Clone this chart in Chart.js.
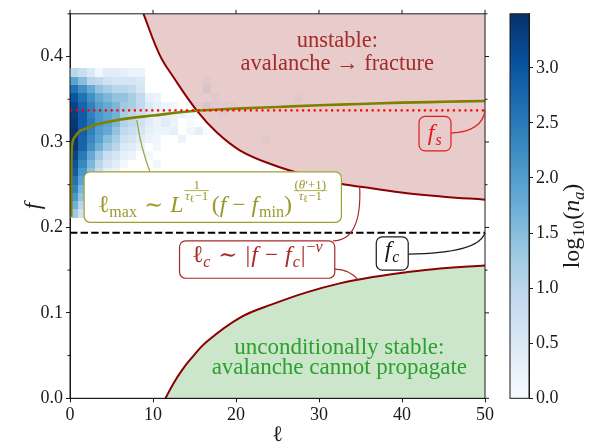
<!DOCTYPE html>
<html>
<head>
<meta charset="utf-8">
<script src="https://cdn.jsdelivr.net/npm/chart.js@4.4.1/dist/chart.umd.min.js"></script>
<style>
  html, body { margin: 0; padding: 0; background: #fff; }
  #wrap { position: relative; width: 595px; height: 446px; }
  #wrap canvas { position: absolute; left: 0; top: 0; }
  #phase { background: #fff; }
</style>
</head>
<body>
<div id="wrap">
  <canvas id="phase" width="595" height="446"></canvas>
  <canvas id="cbar" width="595" height="446"></canvas>
</div>
<script>
// ---- tick values ----
const xTicks = [0, 10, 20, 30, 40, 50];
const yTicks = [0, 0.1, 0.2, 0.3, 0.4];
const yMinorTicks = [0.05, 0.15, 0.25, 0.35, 0.45];
const cbMax = 3.49;

// ---- reference levels ----
const fC = 0.1937;
const fS = 0.337;

// boundary of the unstable (fracture) region
const unstableEll = [8.85, 10.8, 12.45, 15.26, 17.7, 20.5, 24.5, 28.5, 32.5, 36.5, 40.6, 45, 50];
const unstableF = [0.450, 0.402, 0.376, 0.337, 0.311, 0.290, 0.273, 0.261, 0.2515, 0.2455, 0.240, 0.236, 0.2325];

// boundary of the unconditionally stable region
const stableEll = [11.5, 12.5, 13.5, 14.5, 16.5, 20.5, 24.5, 28.5, 32.5, 36.5, 40.6, 44.6, 50];
const stableF = [0, 0.018, 0.033, 0.0455, 0.0665, 0.0945, 0.1105, 0.124, 0.1345, 0.142, 0.1477, 0.152, 0.1555];

// ell_max scaling curve
const lmaxEll = [0.15, 0.16, 0.19, 0.3, 0.6, 1.1, 2.0, 2.7, 4.3, 6.3, 10, 15.3, 20, 25, 30, 35, 40, 45, 50];
const lmaxF = [0.2125, 0.26, 0.285, 0.299, 0.306, 0.312, 0.316, 0.319, 0.323, 0.3267, 0.331, 0.3365, 0.339, 0.341, 0.343, 0.3445, 0.346, 0.347, 0.348];

// ---- avalanche histogram, log10(n_a) ----
// ell bins are one unit wide starting at 0; f bin edges from top to bottom
const hmFEdges = [0.386, 0.3763, 0.3666, 0.3569, 0.3472, 0.3375, 0.3278, 0.3181, 0.3084, 0.2987,
  0.289, 0.2793, 0.2696, 0.2599, 0.2502, 0.2405, 0.2308, 0.2211, 0.2114];
const _ = null;
const hmRows = [
  [1.0, 0.8, 0.5, 0.1, 0.4, 0.4, 0.3, 0.2, 0.2],
  [1.9, 1.5, 1.0, 0.9, 0.7, 0.6, 0.6, 0.6, 0.5, _, _, _, _, _, _, _, 0.0],
  [2.6, 2.2, 1.8, 1.4, 1.2, 1.0, 1.0, 0.9, 0.6, _, _, _, _, _, _, _, 0.2],
  [3.0, 2.6, 2.2, 1.8, 1.6, 1.4, 1.4, 1.2, 0.9, 0.3, 0.2, _, _, _, _, _, _, 0.0, _, _, _, _, _, _, _, _, _, 0.0],
  [3.2, 2.8, 2.4, 2.0, 1.8, 1.6, 1.3, 1.2, 0.9, 0.5, 0.3, 0.2, 0.1, _, _, 0.0, 0.2, 0.0, 0.0, 0.0],
  [3.3, 2.9, 2.4, 2.1, 1.9, 1.7, 1.2, 1.0, 0.8, 0.5, 0.3, 0.3, 0.2, 0.2, 0.1, _, _, _, 0.0],
  [3.4, 2.9, 2.5, 2.1, 1.9, 1.6, 1.1, 0.9, 0.7, 0.4, 0.2, 0.4, 0.2, _, 0.0],
  [3.45, 2.9, 2.4, 2.0, 1.8, 1.4, 0.9, 0.8, 0.6, 0.3, 0.2, 0.2, 0.3, _, 0.1, 0.3, 0.0],
  [3.45, 2.8, 2.3, 1.9, 1.5, 1.2, 0.7, 0.6, 0.4, 0.2, 0.1, _, _, 0.2, _, _, _, _, _, _, _, _, _, 0.0],
  [3.4, 2.8, 2.2, 1.7, 1.3, 1.0, 0.5, 0.4, 0.2, _, 0.1],
  [3.2, 2.5, 1.8, 1.3, 0.8, 0.6, 0.3, 0.2, _, 0.1],
  [3.0, 2.3, 1.6, 1.0, 0.6, 0.4, 0.1, _, _, _, 0.1],
  [2.9, 2.1, 1.4, 0.8, 0.3, 0.2],
  [2.6, 1.9, 1.1, 0.5, 0.2],
  [2.4, 1.6, 0.8, 0.2],
  [2.1, 1.4, 0.5],
  [1.7, 1.0, 0.3],
  [1.3, 0.7]
];

// ---- styling ----
const ink = '#1a1a1a';
const serif = "'Liberation Serif', 'DejaVu Serif', serif";
const darkRed = '#8b0000';
const olive = '#808000';
const oliveText = '#9a9a2a';
const brick = '#a52a2a';
const bluesStops = ['#f7fbff', '#deebf7', '#c6dbef', '#9ecae1', '#6baed6', '#4292c6', '#2171b5', '#08519c', '#08306b'];

Chart.defaults.font.family = serif;
Chart.defaults.font.size = 18;
Chart.defaults.color = ink;

function hexRgb(h) { return [1, 3, 5].map(i => parseInt(h.slice(i, i + 2), 16)); }
function blues(v) {
  const t = Math.min(1, Math.max(0, v / cbMax)) * (bluesStops.length - 1);
  const i = Math.min(Math.floor(t), bluesStops.length - 2);
  const a = hexRgb(bluesStops[i]), b = hexRgb(bluesStops[i + 1]), k = t - i;
  return 'rgb(' + a.map((c, j) => Math.round(c + (b[j] - c) * k)).join(',') + ')';
}

// ---- little math-text helper ----
const S = (t, s, o) => Object.assign({ t, s }, o || {});
const G = w => ({ gap: w });
function fontOf(r) { return (r.it ? 'italic ' : '') + r.s + 'px ' + serif; }
function runWidth(ctx, r) {
  if (r.gap !== undefined) return r.gap;
  if (r.frac) return Math.max(seqWidth(ctx, r.frac[0]), seqWidth(ctx, r.frac[1])) + 3;
  ctx.font = fontOf(r);
  return ctx.measureText(r.t).width;
}
function seqWidth(ctx, runs) { let w = 0; runs.forEach(r => { w += runWidth(ctx, r); }); return w; }
function drawSeq(ctx, runs, x, y) {
  runs.forEach(r => {
    const w = runWidth(ctx, r);
    if (r.frac) {
      const by = y + r.dy;
      drawSeq(ctx, r.frac[0], x + (w - seqWidth(ctx, r.frac[0])) / 2, by - 2);
      drawSeq(ctx, r.frac[1], x + (w - seqWidth(ctx, r.frac[1])) / 2, by + 9);
      ctx.save();
      ctx.strokeStyle = ctx.fillStyle;
      ctx.lineWidth = 0.8;
      ctx.beginPath(); ctx.moveTo(x + 1, by); ctx.lineTo(x + w - 1, by); ctx.stroke();
      ctx.restore();
    } else if (r.t) {
      ctx.font = fontOf(r);
      ctx.fillText(r.t, x, y + (r.dy || 0));
    }
    x += w;
  });
}
function drawCentered(ctx, runs, cx, y) { drawSeq(ctx, runs, cx - seqWidth(ctx, runs) / 2, y); }

const tauDen = [S('τ', 13, { it: 1 }), S('ℓ', 10, { dy: 2 }), S('−1', 13)];
const lmaxRuns = [
  S('ℓ', 24), S('max', 16, { dy: 5 }), G(7), S('∼', 23), G(7), S('L', 24, { it: 1 }),
  { frac: [[S('1', 13)], tauDen], dy: -21 },
  G(2), S('(', 24), S('f', 24, { it: 1 }), G(6), S('−', 23), G(6), S('f', 24, { it: 1 }), G(1), S('min', 16, { dy: 5 }), S(')', 24),
  G(1), { frac: [[S('(', 13), S('θ', 13, { it: 1 }), S('′', 13), S('+1)', 13)], tauDen], dy: -21 }
];
const lcRuns = [
  S('ℓ', 24), S('c', 16, { it: 1, dy: 5 }), G(8), S('∼', 23), G(8), S('|', 24), G(1), S('f', 24, { it: 1 }),
  G(7), S('−', 23), G(7), S('f', 24, { it: 1 }), G(1), S('c', 16, { it: 1, dy: 5 }), G(1), S('|', 24), G(1),
  S('−', 16, { dy: -10 }), S('ν', 16, { it: 1, dy: -10 })
];
const fcRuns = [S('f', 24, { it: 1 }), G(1), S('c', 16, { it: 1, dy: 5 })];
const fsRuns = [S('f', 24, { it: 1 }), G(1), S('s', 16, { it: 1, dy: 5 })];

// annotation boxes in data units: [ell0, ell1, f0, f1]
const boxes = [
  { r: [1.7, 32.7, 0.206, 0.265], edge: '#a0a030', fill: '#fff', text: lmaxRuns, color: oliveText, at: [17.2, 0.2185] },
  { r: [13.2, 31.9, 0.1405, 0.1843], edge: brick, fill: '#fff', text: lcRuns, color: brick, at: [22.55, 0.1598] },
  { r: [36.9, 40.75, 0.150, 0.189], edge: ink, fill: '#fff', text: fcRuns, color: ink, at: [38.8, 0.1655] },
  { r: [42.05, 45.9, 0.2896, 0.330], edge: '#e41a1c', fill: null, text: fsRuns, color: '#e41a1c', at: [43.95, 0.3025] }
];
// connector curves: start, control, end (data units)
const connectors = [
  { p: [8.05, 0.3255, 8.5, 0.294, 9.64, 0.265], color: '#a0a030' },
  { p: [31.7, 0.1843, 35.2, 0.185, 34.9, 0.248], color: brick },
  { p: [31.9, 0.1512, 33.7, 0.151, 34.7, 0.1386], color: brick },
  { p: [40.75, 0.1688, 49.2, 0.1695, 50, fC], color: ink },
  { p: [45.9, 0.3103, 49.7, 0.3125, 50, fS], color: '#e41a1c' }
];

const pts = (xs, ys) => xs.map((x, i) => ({ x, y: ys[i] }));

const heatmap = {
  id: 'heatmap',
  beforeDatasetsDraw(chart) {
    const { ctx, chartArea: a, scales: { x, y } } = chart;
    ctx.save();
    ctx.beginPath(); ctx.rect(a.left, a.top, a.right - a.left, a.bottom - a.top); ctx.clip();
    hmRows.forEach((row, i) => {
      const y0 = Math.round(y.getPixelForValue(hmFEdges[i]));
      const y1 = Math.round(y.getPixelForValue(hmFEdges[i + 1]));
      row.forEach((v, j) => {
        if (v === null) return;
        const x0 = Math.round(x.getPixelForValue(j));
        const x1 = Math.round(x.getPixelForValue(j + 1));
        ctx.fillStyle = blues(v);
        ctx.fillRect(x0, y0, x1 - x0, y1 - y0);
      });
    });
    ctx.restore();
  }
};

const frame = {
  id: 'frame',
  afterDraw(chart) {
    const { ctx, chartArea: a, scales: { x, y } } = chart;
    ctx.save();
    ctx.strokeStyle = ink;
    ctx.lineWidth = 1;
    ctx.strokeRect(a.left, a.top, a.right - a.left, a.bottom - a.top);
    ctx.beginPath();
    xTicks.forEach(v => { const p = x.getPixelForValue(v); ctx.moveTo(p, a.top); ctx.lineTo(p, a.top - 4); });
    yTicks.forEach(v => { const p = y.getPixelForValue(v); ctx.moveTo(a.right, p); ctx.lineTo(a.right + 4, p); });
    yMinorTicks.forEach(v => {
      const p = y.getPixelForValue(v);
      ctx.moveTo(a.left, p); ctx.lineTo(a.left - 2.5, p);
      ctx.moveTo(a.right, p); ctx.lineTo(a.right + 2.5, p);
    });
    ctx.stroke();
    ctx.restore();
  }
};

const annotations = {
  id: 'annotations',
  afterDraw(chart) {
    const { ctx, scales: { x, y } } = chart;
    const px = v => x.getPixelForValue(v), py = v => y.getPixelForValue(v);
    ctx.save();
    ctx.textBaseline = 'alphabetic';

    // region labels
    ctx.fillStyle = brick;
    drawCentered(ctx, [S('unstable:', 22.5)], px(32.2), py(0.4115));
    drawCentered(ctx, [S('avalanche ', 22.5), S('→', 22.5), S(' fracture', 22.5)], px(32.2), py(0.3846));
    ctx.fillStyle = '#2ca02c';
    drawCentered(ctx, [S('unconditionally stable:', 23)], px(32.45), py(0.0518));
    drawCentered(ctx, [S('avalanche cannot propagate', 23)], px(32.45), py(0.0284));

    connectors.forEach(c => {
      const p = c.p;
      ctx.strokeStyle = c.color;
      ctx.lineWidth = 1.2;
      ctx.beginPath();
      ctx.moveTo(px(p[0]), py(p[1]));
      ctx.quadraticCurveTo(px(p[2]), py(p[3]), px(p[4]), py(p[5]));
      ctx.stroke();
    });

    boxes.forEach(b => {
      const x0 = px(b.r[0]), x1 = px(b.r[1]), y0 = py(b.r[3]), y1 = py(b.r[2]);
      ctx.beginPath();
      ctx.roundRect(x0, y0, x1 - x0, y1 - y0, 6);
      if (b.fill) { ctx.fillStyle = b.fill; ctx.fill(); }
      ctx.strokeStyle = b.edge;
      ctx.lineWidth = 1.2;
      ctx.stroke();
      ctx.fillStyle = b.color;
      drawCentered(ctx, b.text, px(b.at[0]), py(b.at[1]));
    });
    ctx.restore();
  }
};

new Chart(document.getElementById('phase'), {
  type: 'line',
  data: {
    datasets: [
      { data: [{ x: 0, y: fS }, { x: 50, y: fS }], borderColor: '#ff0000', borderWidth: 2.2, borderDash: [2.2, 3.6], pointRadius: 0, fill: false },
      { data: pts(lmaxEll, lmaxF), borderColor: olive, borderWidth: 2.6, pointRadius: 0, cubicInterpolationMode: 'monotone', fill: false },
      { data: [{ x: 0, y: fC }, { x: 50, y: fC }], borderColor: '#000', borderWidth: 2, borderDash: [7.4, 3.2], pointRadius: 0, fill: false },
      { data: pts(unstableEll, unstableF), borderColor: darkRed, borderWidth: 2, pointRadius: 0, tension: 0.4,
        fill: 'end', backgroundColor: 'rgba(139,0,0,0.2)' },
      { data: pts(stableEll, stableF), borderColor: darkRed, borderWidth: 2, pointRadius: 0, tension: 0.4,
        fill: 'start', backgroundColor: 'rgba(0,128,0,0.2)' }
    ]
  },
  options: {
    responsive: false,
    animation: false,
    events: [],
    layout: { padding: { left: 0, top: 13.3, right: 110, bottom: 0 } },
    plugins: { legend: { display: false }, tooltip: { enabled: false } },
    scales: {
      x: {
        type: 'linear', min: 0, max: 50,
        afterFit: s => { s.height = 47.7; },
        ticks: { stepSize: 10, padding: 2, maxRotation: 0 },
        grid: { drawOnChartArea: false, tickLength: 4, color: ink },
        border: { color: ink, width: 1 },
        title: { display: true, text: 'ℓ', font: { size: 22, lineHeight: 1 }, padding: 0 }
      },
      y: {
        min: 0, max: 0.45,
        afterFit: s => { s.width = 70; },
        ticks: { stepSize: 0.1, includeBounds: false, padding: 3, callback: v => v.toFixed(1) },
        grid: { drawOnChartArea: false, tickLength: 4, color: ink },
        border: { color: ink, width: 1 },
        title: { display: true, text: 'f', font: { size: 23, style: 'italic', lineHeight: 1 }, padding: { top: 22 } }
      }
    }
  },
  plugins: [heatmap, frame, annotations]
});

// ---- colour bar ----
const cbTitleRuns = [S('log', 24), G(1), S('10', 16, { dy: 5 }), G(1), S('(', 24), S('n', 24, { it: 1 }), S('a', 16, { it: 1, dy: 5 }), S(')', 24)];
const colorbar = {
  id: 'colorbar',
  beforeDraw(chart) {
    const { ctx, chartArea: a, scales: { y } } = chart;
    const g = ctx.createLinearGradient(0, y.getPixelForValue(0), 0, y.getPixelForValue(cbMax));
    bluesStops.forEach((c, i) => g.addColorStop(i / (bluesStops.length - 1), c));
    ctx.save();
    ctx.fillStyle = g;
    ctx.fillRect(a.left, a.top, a.right - a.left, a.bottom - a.top);
    ctx.restore();
  },
  afterDraw(chart) {
    const { ctx, chartArea: a } = chart;
    ctx.save();
    ctx.strokeStyle = ink;
    ctx.lineWidth = 1;
    ctx.strokeRect(a.left, a.top, a.right - a.left, a.bottom - a.top);
    ctx.translate(573, 226);
    ctx.rotate(-Math.PI / 2);
    ctx.fillStyle = ink;
    ctx.textBaseline = 'alphabetic';
    drawCentered(ctx, cbTitleRuns, 0, 6);
    ctx.restore();
  }
};

new Chart(document.getElementById('cbar'), {
  type: 'scatter',
  data: { datasets: [] },
  options: {
    responsive: false,
    animation: false,
    events: [],
    layout: { padding: { left: 510, top: 13.3, right: 0, bottom: 47.7 } },
    plugins: { legend: { display: false }, tooltip: { enabled: false } },
    scales: {
      x: { display: false, min: 0, max: 1 },
      y: {
        position: 'right', min: 0, max: cbMax,
        afterFit: s => { s.width = 66; },
        ticks: { stepSize: 0.5, includeBounds: false, padding: 3, callback: v => v.toFixed(1) },
        grid: { drawOnChartArea: false, tickLength: 4, color: ink },
        border: { color: ink, width: 1 }
      }
    }
  },
  plugins: [colorbar]
});
</script>
</body>
</html>
